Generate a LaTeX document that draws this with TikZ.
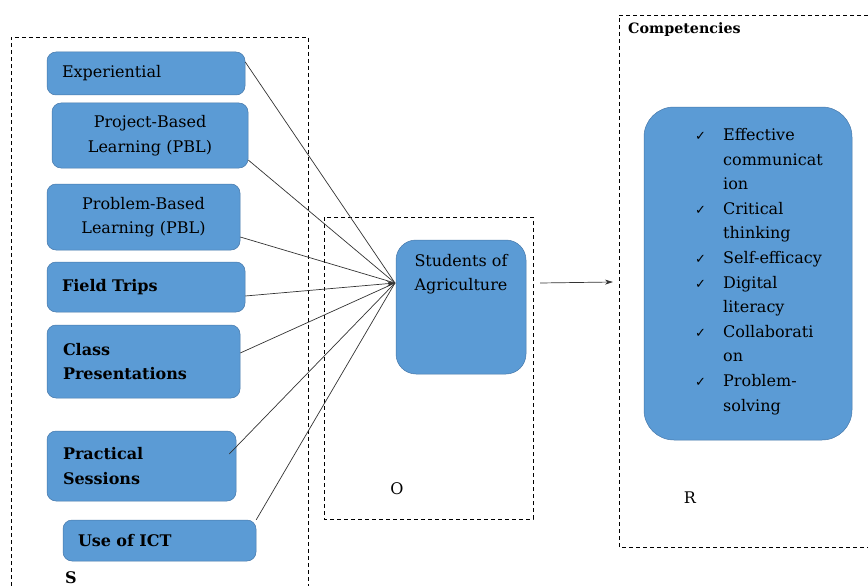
\documentclass[tikz,border=0pt]{standalone}
\usepackage{fontspec}
\setmainfont{DejaVu Serif}
\newfontfamily\djv{DejaVu Sans}
\usetikzlibrary{arrows.meta,calc}
\definecolor{boxc}{RGB}{91,155,213}
\definecolor{bordc}{RGB}{70,120,170}
\newcommand{\chk}{{\djv\fontsize{13}{13}\selectfont ✓}}
\begin{document}
\begin{tikzpicture}[x=1pt,y=-1pt,
  every node/.style={font=\fontsize{16}{24.6}\selectfont},
  bf/.style={font=\fontsize{16}{24.6}\selectfont\bfseries},
  blk/.style={draw=bordc, fill=boxc, line width=0.5pt, rounded corners=9pt},
  dashbox/.style={draw=black, line width=0.8pt, dash pattern=on 4pt off 3pt},
  conn/.style={draw=black!80, line width=0.7pt},
  tip/.style={-{Stealth[length=8pt,width=5pt]}}]
\useasboundingbox (0,0) rectangle (868,586);
% dashed frames
\draw[dashbox] (11,586) -- (11,37) -- (308,37) -- (308,586);
\draw[dashbox] (324,217) rectangle (533,519);
\draw[dashbox] (868,15) -- (619,15) -- (619,547) -- (868,547);
% left boxes
\node[blk, minimum width=198pt, minimum height=43pt, text width=168pt, inner xsep=15pt, align=left] (exp) at (146,73.5) {Experiential};
\node[blk, minimum width=196pt, minimum height=65pt, text width=176pt, align=center] (pbl1) at (150,135.5) {Project-Based\\Learning (PBL)};
\node[blk, minimum width=193pt, minimum height=66pt, text width=176pt, align=center] (pbl2) at (143.5,217) {Problem-Based\\Learning (PBL)};
\node[blk, bf, minimum width=198pt, minimum height=50pt, text width=168pt, inner xsep=15pt, align=left] (field) at (146,287) {Field Trips};
\node[blk, bf, minimum width=193pt, minimum height=73pt, text width=161pt, inner xsep=16pt, align=left] (class) at (143.5,361.5) {Class\\Presentations};
\node[blk, bf, minimum width=189pt, minimum height=70pt, text width=157pt, inner xsep=16pt, align=left] (prac) at (141.5,466) {Practical\\Sessions};
\node[blk, bf, minimum width=193pt, minimum height=41pt, text width=163pt, inner xsep=15pt, align=left] (ict) at (159.5,540.5) {Use of ICT};
\node[bf, anchor=base west, inner sep=0] (slab) at (65,583) {S};
% students
\node[blk, rounded corners=20pt, minimum width=130pt, minimum height=134pt] (stud) at (461,307) {};
\node[anchor=north, inner sep=0, align=center] (studtxt) at (461,254) {Students of\\Agriculture};
\coordinate (conv) at (395,283);
\node[anchor=base, inner sep=0] (olab) at (397,494) {O};
% competencies
\node[anchor=base west, inner sep=0, font=\fontsize{14.3}{24.6}\selectfont\bfseries] (complab) at (628,34) {Competencies};
\node[blk, rounded corners=30pt, minimum width=208pt, minimum height=333pt] (comp) at (748,273.5) {};
\node[anchor=north west, inner sep=0] (comptxt) at (695,123) {%
\begin{tabular}{@{}p{28pt}@{}l@{}}
\chk & Effective\\
 & communicat\\
 & ion\\
\chk & Critical\\
 & thinking\\
\chk & Self-efficacy\\
\chk & Digital\\
 & literacy\\
\chk & Collaborati\\
 & on\\
\chk & Problem-\\
 & solving
\end{tabular}};
\node[anchor=base, inner sep=0] (rlab) at (690,503) {R};
% connectors
\draw[conn] ([yshift=11.5pt]exp.east) -- (conv);
\draw[conn] ([yshift=-24.5pt]pbl1.east) -- (conv);
\draw[conn] ([yshift=-20pt]pbl2.east) -- (conv);
\draw[conn,tip] ([yshift=-9pt]field.east) -- (conv);
\draw[conn] ([yshift=8.5pt]class.east) -- (conv);
\draw[conn] ([xshift=-7pt,yshift=12pt]prac.east) -- (conv);
\draw[conn] (ict.north east) -- (conv);
\coordinate (outs) at (540,283);
\coordinate (oute) at (613,282);
\draw[conn,tip] (outs) -- (oute);
\end{tikzpicture}
\end{document}
